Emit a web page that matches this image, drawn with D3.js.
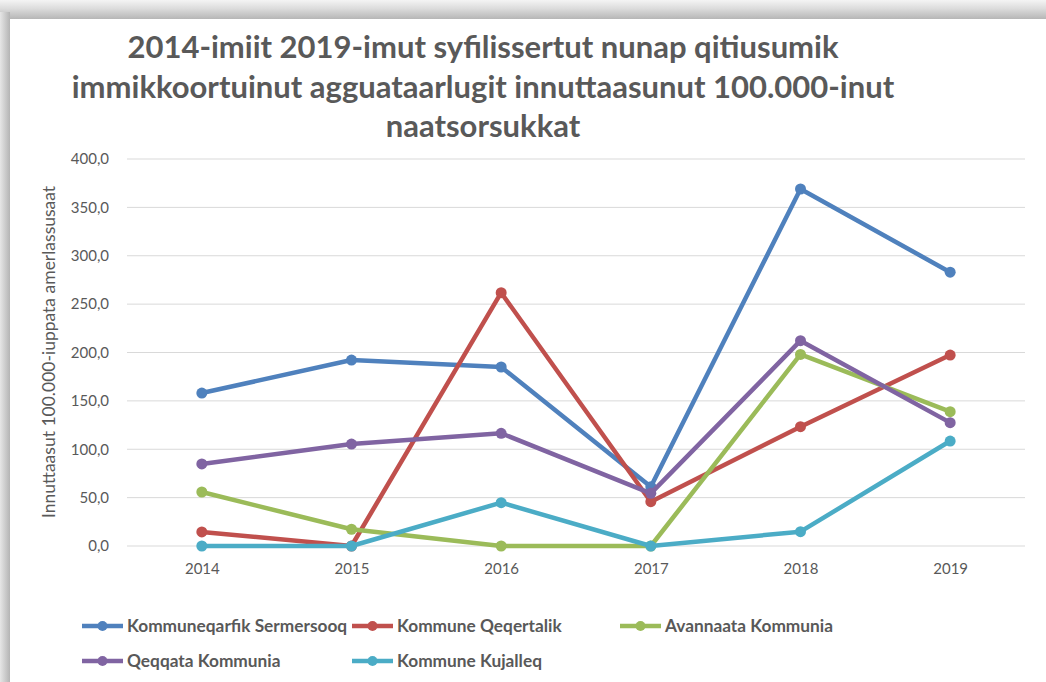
<!DOCTYPE html>
<html>
<head>
<meta charset="utf-8">
<script src="https://cdn.jsdelivr.net/npm/d3@7"></script>
<style>
  body { margin: 0; background: #fff; }
  svg { display: block; font-family: Lato, "Open Sans", sans-serif; }
</style>
</head>
<body>
<div id="chart"></div>
<script>
var WIDTH = 1046
var HEIGHT = 682

// data
var years = ['2014', '2015', '2016', '2017', '2018', '2019'];
var seriesNames = ['Kommuneqarfik Sermersooq', 'Kommune Qeqertalik', 'Avannaata Kommunia', 'Qeqqata Kommunia', 'Kommune Kujalleq'];
var sermersooq = [158.1, 192.2, 185.0, 61.3, 369.0, 283.0];
var qeqertalik = [14.5, 0, 261.8, 45.8, 123.3, 197.4];
var avannaata = [55.8, 17.3, 0, 0, 198.0, 138.8];
var qeqqata = [84.8, 105.4, 116.5, 54.4, 212.2, 127.5];
var kujalleq = [0, 0, 44.8, 0, 14.8, 108.5];
var yTicks = [0, 50, 100, 150, 200, 250, 300, 350, 400];
var titleLines = [
    '2014-imiit 2019-imut syfilissertut nunap qitiusumik',
    'immikkoortuinut agguataarlugit innuttaasunut 100.000-inut',
    'naatsorsukkat'
];
var yLabel = 'Innuttaasut 100.000-iuppata amerlassusaat';

var colors = ['#4F81BD', '#C0504D', '#9BBB59', '#8064A2', '#4BACC6'];
var allSeries = [sermersooq, qeqertalik, avannaata, qeqqata, kujalleq];

const svg = d3.select('#chart').append('svg')
    .attr('width', WIDTH)
    .attr('height', HEIGHT);

// picture frame (gray bevel top/left)
var defs = svg.append('defs');
var gTop = defs.append('linearGradient').attr('id', 'gTop')
    .attr('x1', 0).attr('y1', 0).attr('x2', 0).attr('y2', 1);
gTop.append('stop').attr('offset', '0%').attr('stop-color', '#f4f4f4');
gTop.append('stop').attr('offset', '45%').attr('stop-color', '#dcdcdc');
gTop.append('stop').attr('offset', '100%').attr('stop-color', '#b6b6b6');
var gLeft = defs.append('linearGradient').attr('id', 'gLeft')
    .attr('x1', 0).attr('y1', 0).attr('x2', 1).attr('y2', 0);
gLeft.append('stop').attr('offset', '0%').attr('stop-color', '#e6e6e6');
gLeft.append('stop').attr('offset', '100%').attr('stop-color', '#b4b4b4');

svg.append('rect').attr('x', 0).attr('y', 0).attr('width', WIDTH).attr('height', 19).attr('fill', 'url(#gTop)');
svg.append('rect').attr('x', 0).attr('y', 12).attr('width', 10).attr('height', HEIGHT - 12).attr('fill', 'url(#gLeft)');

let xScale = d3.scalePoint()
    .domain(years)
    .range([127, 1025])
    .padding(0.5);
let yScale = d3.scaleLinear()
    .domain([0, 400])
    .range([546, 159]);

var fmt = d => d3.format('.1f')(d).replace('.', ',');

// title
var title = svg.append('text')
    .attr('text-anchor', 'middle')
    .attr('fill', '#595959')
    .attr('font-weight', 'bold')
    .attr('font-size', 31);
titleLines.forEach((line, i) => {
    title.append('tspan')
        .attr('x', 483)
        .attr('y', 58 + i * 39.5)
        .text(line);
});

// gridlines
svg.append('g')
    .selectAll('line')
    .data(yTicks)
    .enter()
    .append('line')
    .attr('x1', 127)
    .attr('x2', 1025)
    .attr('y1', d => yScale(d))
    .attr('y2', d => yScale(d))
    .attr('stroke', '#d9d9d9')
    .attr('stroke-width', 1);

// y axis
var yAxis = svg.append('g')
    .attr('transform', 'translate(109,0)')
    .call(d3.axisLeft(yScale).tickValues(yTicks).tickFormat(fmt).tickSize(0).tickPadding(0));
yAxis.select('.domain').remove();
yAxis.selectAll('text')
    .attr('fill', '#595959')
    .attr('font-size', 15)
    .attr('font-family', 'Lato, sans-serif');

// x axis
var xAxis = svg.append('g')
    .attr('transform', 'translate(0,546)')
    .call(d3.axisBottom(xScale).tickSize(0).tickPadding(17));
xAxis.select('.domain').remove();
xAxis.selectAll('text')
    .attr('fill', '#595959')
    .attr('font-size', 15)
    .attr('font-family', 'Lato, sans-serif');

// y axis title
svg.append('text')
    .attr('transform', 'translate(55,352) rotate(-90)')
    .attr('text-anchor', 'middle')
    .attr('fill', '#595959')
    .attr('font-size', 17.5)
    .text(yLabel);

// lines
var line = d3.line()
    .x((d, i) => xScale(years[i]))
    .y(d => yScale(d));

allSeries.forEach((values, s) => {
    var g = svg.append('g').attr('class', 'series');
    g.append('path')
        .attr('d', line(values))
        .attr('fill', 'none')
        .attr('stroke', colors[s])
        .attr('stroke-width', 4.5)
        .attr('stroke-linejoin', 'round');
    g.selectAll('circle')
        .data(values)
        .enter()
        .append('circle')
        .attr('cx', (d, i) => xScale(years[i]))
        .attr('cy', d => yScale(d))
        .attr('r', 5.5)
        .attr('fill', colors[s]);
});

// legend
var legendPos = [[82, 626], [352, 626], [620, 626], [82, 661], [352, 661]];
seriesNames.forEach((name, s) => {
    var lg = svg.append('g')
        .attr('transform', 'translate(' + legendPos[s][0] + ',' + legendPos[s][1] + ')');
    lg.append('line')
        .attr('x1', 0).attr('x2', 41)
        .attr('y1', 0).attr('y2', 0)
        .attr('stroke', colors[s])
        .attr('stroke-width', 4.5);
    lg.append('circle')
        .attr('cx', 20.5).attr('cy', 0).attr('r', 5)
        .attr('fill', colors[s]);
    lg.append('text')
        .attr('x', 45)
        .attr('y', 0)
        .attr('dy', '0.36em')
        .attr('fill', '#595959')
        .attr('font-size', 17.3)
        .attr('font-weight', 'bold')
        .text(name);
});
</script>
</body>
</html>
